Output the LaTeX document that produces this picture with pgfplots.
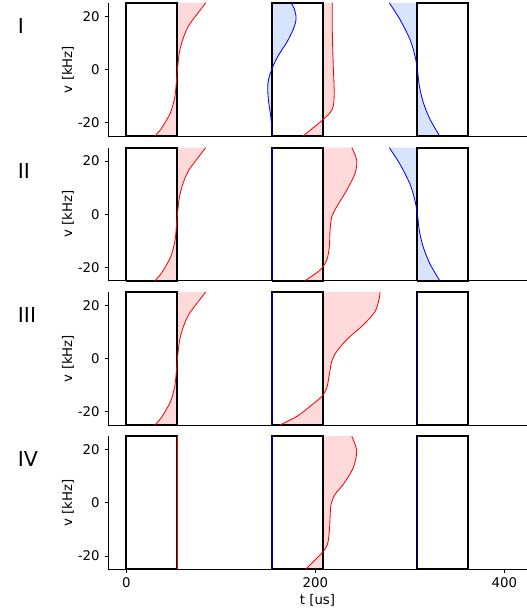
\documentclass[border=0pt]{standalone}
\usepackage{fontspec}
\setmainfont{DejaVu Sans}
\usepackage{pgfplots}
\usepackage{pgfplotstable}
\pgfplotsset{compat=1.18}

\definecolor{redfill}{RGB}{255,218,218}
\definecolor{bluefill}{RGB}{216,228,252}
\definecolor{edgeblue}{RGB}{0,0,130}

\pgfplotsset{
  panel/.style={
    anchor=south west, scale only axis,
    width=301.7pt, height=95.8pt,
    xmin=-19.4, xmax=424, ymin=-25, ymax=25,
    axis x line*=bottom, axis y line*=left,
    axis line style={line width=0.6pt},
    tick align=outside, major tick length=2.5pt,
    tick style={line width=0.6pt,black},
    ytick={-20,0,20}, yticklabels={-20,0,20},
    xtick=\empty,
    ticklabel style={font=\fontsize{9.6}{11}\selectfont},
    ylabel={v [kHz]},
    ylabel style={font=\fontsize{9.6}{11}\selectfont,at={(axis description cs:-0.0955,0.5)},anchor=center},
    clip=false,
  },
  box/.style={black, line width=1.35pt, line join=miter},
  rc/.style={red, line width=0.6pt, smooth},
  bc/.style={blue, line width=0.6pt, smooth},
  rf/.style={fill=redfill, draw=none, smooth, forget plot},
  bf/.style={fill=bluefill, draw=none, smooth, forget plot},
}

% box 1 red edge curve (panels I-III)
\pgfplotstableread{
t v
30.4 -25
36.5 -22.5
40.9 -20
45.0 -17.5
48.0 -15
51.5 -10
52.9 -5
54.1 0
56.1 6.25
59.7 11.25
65.6 16.2
74.5 20.6
84.0 25
}\redA
% box 3 blue curve (panels I-II)
\pgfplotstableread{
t v
331.6 -25
321.4 -18.75
314.3 -12.5
310.1 -6.25
308.0 0
305.5 5
300.2 11.25
289.6 18.75
278.3 25
}\blueC
% panel I, box 2 blue
\pgfplotstableread{
t v
154.5 -25
153.8 -21
152.8 -17.5
150.3 -11.25
149.6 -6.25
151.0 -3
153.9 0
157.5 3
162.6 6.25
169.5 10
175.0 13.75
179.0 17.5
179.6 20
177.5 23
174.3 25
}\blueBI
% panel I, box 2 red
\pgfplotstableread{
t v
187.3 -25
197.9 -21.9
208.5 -18.75
215.6 -16.25
219.0 -13.75
220.0 -8.75
219.0 1.25
218.0 13.75
218.0 25
}\redBI
% panel II, box 2 red
\pgfplotstableread{
t v
189.1 -25
205.0 -21
212.1 -17.25
214.8 -12.25
215.6 -6
217.4 -1
222.6 2.75
233.2 9
242.0 15.25
243.8 20.25
238.6 25
}\redBII
% panel III, box 2 red
\pgfplotstableread{
t v
162.6 -25
180.3 -21.8
194.4 -18
206.8 -14.25
212.1 -11.1
214.8 -6.1
217.4 -1.1
222.6 2.6
234.9 7.65
250.8 12.6
263.2 17.6
267.7 22.6
268.5 25
}\redBIII
% panel IV, box 2 red
\pgfplotstableread{
t v
189.8 -25
206.8 -18.9
212.7 -15.8
214.8 -10.8
215.6 -5.7
216.6 -0.7
220.8 3.1
229.6 6.9
240.2 13.2
243.8 19.5
238.6 25
}\redBIV

\newcommand{\pulseboxes}{%
  \addplot[box] coordinates {(0,-25) (0,25) (54,25) (54,-25) (0,-25)};
  \addplot[box] coordinates {(154,-25) (154,25) (208,25) (208,-25) (154,-25)};
  \addplot[box] coordinates {(308,-25) (308,25) (362,25) (362,-25) (308,-25)};
}
% fill between a curve and the vertical box edge at #2
\newcommand{\edgefill}[3]{%
  \addplot[#1] table {#3} -- (axis cs:#2,25) -- (axis cs:#2,-25) -- cycle;
}
\newcommand{\panellabel}[1]{\node[anchor=west,font=\fontsize{14.8}{16}\selectfont] at ([xshift=-68.4pt]axis description cs:0,0.827) {#1};}

\begin{document}
\begin{tikzpicture}
\useasboundingbox (-77.76pt,-32.2pt) rectangle (301.7pt,409.9pt);

% Panel I
\begin{axis}[panel, at={(0,312pt)}]
\edgefill{rf}{54}{\redA}
\edgefill{bf}{154}{\blueBI}
\edgefill{rf}{208}{\redBI}
\edgefill{bf}{308}{\blueC}
\pulseboxes
\addplot[rc] table {\redA};
\addplot[bc] table {\blueBI};
\addplot[rc] table {\redBI};
\addplot[bc] table {\blueC};
\panellabel{I}
\end{axis}

% Panel II
\begin{axis}[panel, at={(0,207.8pt)}]
\edgefill{rf}{54}{\redA}
\edgefill{rf}{208}{\redBII}
\edgefill{bf}{308}{\blueC}
\pulseboxes
\addplot[edgeblue, line width=1.2pt] coordinates {(154,-25) (154,25)};
\addplot[rc] table {\redA};
\addplot[rc] table {\redBII};
\addplot[bc] table {\blueC};
\panellabel{II}
\end{axis}

% Panel III
\begin{axis}[panel, at={(0,103.9pt)}]
\edgefill{rf}{54}{\redA}
\edgefill{rf}{208}{\redBIII}
\pulseboxes
\addplot[edgeblue, line width=1.2pt] coordinates {(154,-25) (154,25)};
\addplot[edgeblue, line width=1.2pt] coordinates {(308,-25) (308,25)};
\addplot[rc] table {\redA};
\addplot[rc] table {\redBIII};
\panellabel{III}
\end{axis}

% Panel IV
\begin{axis}[panel, at={(0,0pt)},
  xtick={0,200,400}, xticklabels={0,200,400},
  xlabel={t [us]},
  xlabel style={font=\fontsize{9.6}{11}\selectfont, yshift=2pt}]
\edgefill{rf}{208}{\redBIV}
\pulseboxes
\addplot[edgeblue, line width=1.2pt] coordinates {(154,-25) (154,25)};
\addplot[edgeblue, line width=1.2pt] coordinates {(308,-25) (308,25)};
\addplot[red, line width=0.6pt] coordinates {(54,-25) (54,25)};
\addplot[rc] table {\redBIV};
\panellabel{IV}
\end{axis}
\end{tikzpicture}
\end{document}
